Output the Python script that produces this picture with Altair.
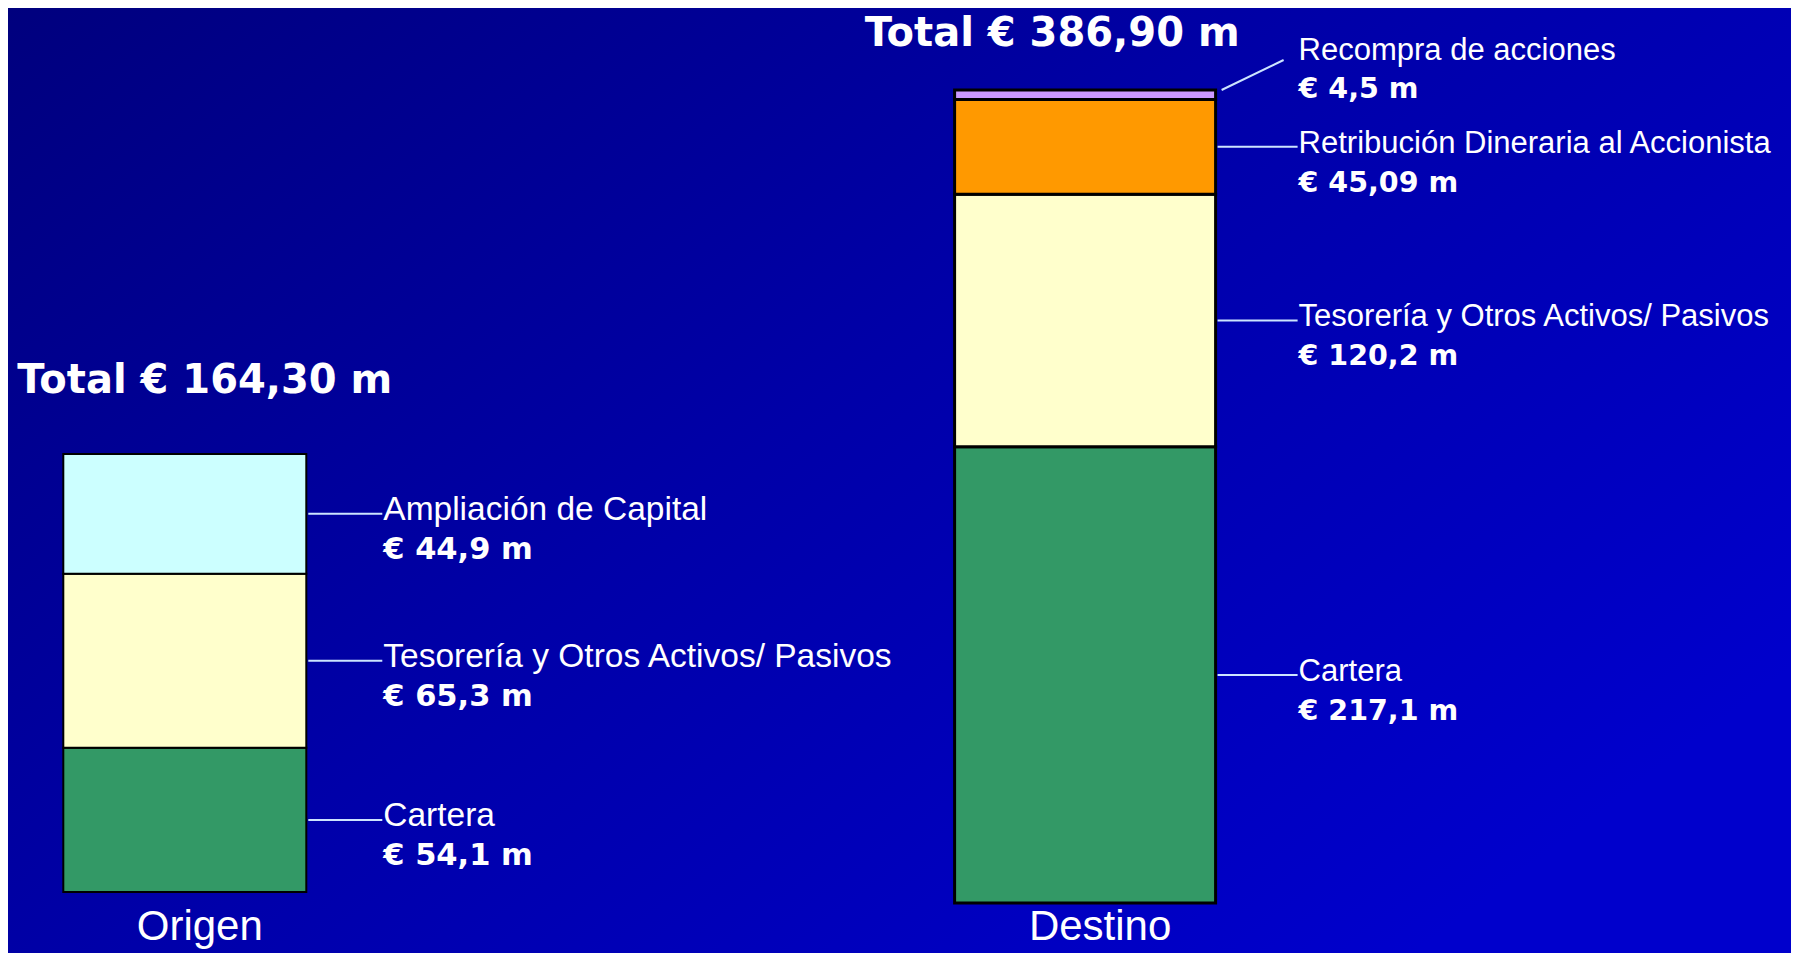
import altair as alt
import pandas as pd

# ---------------- data ----------------
bars = ["Origen", "Destino"]

origen_names = ["Cartera", "Tesorería y Otros Activos/ Pasivos", "Ampliación de Capital"]
origen_values = [54.1, 65.3, 44.9]
origen_labels = ["€ 54,1 m", "€ 65,3 m", "€ 44,9 m"]

destino_names = ["Cartera", "Tesorería y Otros Activos/ Pasivos",
                 "Retribución Dineraria al Accionista", "Recompra de acciones"]
destino_values = [217.1, 120.2, 45.09, 4.5]
destino_labels = ["€ 217,1 m", " € 120,2 m", "€ 45,09 m", "€ 4,5 m"]

# ---------------- style ----------------
segment_domain = ["Cartera", "Tesorería y Otros Activos/ Pasivos", "Ampliación de Capital",
                  "Retribución Dineraria al Accionista", "Recompra de acciones"]
segment_colors = ["#339966", "#FFFFCC", "#CCFFFF", "#FF9900", "#CC99FF"]

W, H = 1783, 945
LEAD = "#CCE4FF"
REG = "Liberation Sans"
BOLD = "DejaVu Sans"

cscale = alt.Scale(domain=segment_domain, range=segment_colors)

# band scale placing the two columns
c0, c1 = 176.8, 1077.1
step = c1 - c0
xscale = alt.Scale(domain=bars, range=[c0 - step / 2, c1 + step / 2],
                   paddingInner=0, paddingOuter=0)
X = alt.X("bar:N", scale=xscale, axis=None)


def frame(bar, names, values, labels):
    df = pd.DataFrame({"bar": bar, "name": names, "value": values, "label": labels})
    df["y1"] = df["value"].cumsum()
    df["y0"] = df["y1"] - df["value"]
    df["mid"] = (df["y0"] + df["y1"]) / 2
    total = float(df["value"].sum())
    df["small"] = df["value"] < 0.03 * total
    return df, total


def column(df, total, bar_w, stroke_w, bottom_px, top_px, lead, title_dx, title_dy,
           name_size, value_size):
    k = (bottom_px - top_px) / total
    d0 = -(H - bottom_px) / k
    d1 = d0 + H / k
    ys = alt.Scale(domain=[d0, d1], nice=False, zero=False)
    half = bar_w / 2
    flat = df[~df["small"]]
    diag = df[df["small"]]

    rects = alt.Chart(df).mark_bar(width=bar_w, stroke="black", strokeWidth=stroke_w).encode(
        x=X,
        y=alt.Y("y0:Q", scale=ys, axis=None),
        y2="y1:Q",
        color=alt.Color("name:N", scale=cscale, legend=None),
    )
    layers = [rects]

    if len(flat):
        layers.append(alt.Chart(flat).mark_rule(
            color=LEAD, strokeWidth=2, xOffset=half + 2, x2Offset=half + lead).encode(
            x=X, x2="bar:N", y=alt.Y("mid:Q", scale=ys, axis=None)))
        layers.append(alt.Chart(flat).mark_text(
            align="left", baseline="alphabetic", dx=half + lead + 1, dy=6,
            font=REG, fontSize=name_size, color="white").encode(
            x=X, y=alt.Y("mid:Q", scale=ys, axis=None), text="name:N"))
        layers.append(alt.Chart(flat).mark_text(
            align="left", baseline="alphabetic", dx=half + lead + 1, dy=45,
            font=BOLD, fontWeight="bold", fontSize=value_size, color="white").encode(
            x=X, y=alt.Y("mid:Q", scale=ys, axis=None), text="label:N"))
    if len(diag):
        layers.append(alt.Chart(diag).mark_rule(
            color=LEAD, strokeWidth=2, xOffset=half + 6, x2Offset=half + lead - 14,
            y2Offset=-30).encode(
            x=X, x2="bar:N", y=alt.Y("y1:Q", scale=ys, axis=None), y2="y1:Q"))
        layers.append(alt.Chart(diag).mark_text(
            align="left", baseline="alphabetic", dx=half + lead + 1, dy=-30,
            font=REG, fontSize=name_size, color="white").encode(
            x=X, y=alt.Y("y1:Q", scale=ys, axis=None), text="name:N"))
        layers.append(alt.Chart(diag).mark_text(
            align="left", baseline="alphabetic", dx=half + lead + 1, dy=8,
            font=BOLD, fontWeight="bold", fontSize=value_size, color="white").encode(
            x=X, y=alt.Y("y1:Q", scale=ys, axis=None), text="label:N"))

    bar = df["bar"].iloc[0]
    tdf = pd.DataFrame({"bar": [bar], "total": [total],
                        "text": ["Total € " + f"{round(total, 1):.2f}".replace(".", ",") + " m"]})
    layers.append(alt.Chart(tdf).mark_text(
        align="center", baseline="alphabetic", dx=title_dx, dy=title_dy,
        font=BOLD, fontWeight="bold", fontSize=40, color="white").encode(
        x=X, y=alt.Y("total:Q", scale=ys, axis=None), text="text:N"))
    layers.append(alt.Chart(tdf).mark_text(
        align="center", baseline="alphabetic", dx=15,
        font=REG, fontSize=42, color="white").encode(
        x=X, y=alt.value(932), text="bar:N"))
    return alt.layer(*layers)


odf, ototal = frame("Origen", origen_names, origen_values, origen_labels)
ddf, dtotal = frame("Destino", destino_names, destino_values, destino_labels)

left = column(odf, ototal, 243, 2, 884, 446, 76, 20, -61, 33.5, 30.5)
right = column(ddf, dtotal, 261, 3, 895, 82, 82, -33, -44, 31, 28.5)

grad = alt.Gradient(
    gradient="linear",
    stops=[alt.GradientStop(color="#00007E", offset=0),
           alt.GradientStop(color="#0000A8", offset=0.5),
           alt.GradientStop(color="#0000CC", offset=1)],
    x1=0, y1=0, x2=1, y2=0.7,
)
bg = alt.Chart(pd.DataFrame({"k": [0]})).mark_rect(fill=grad).encode(
    x=alt.value(0), x2=alt.value(W), y=alt.value(0), y2=alt.value(H))

chart = alt.layer(bg, left, right).resolve_scale(y="independent").properties(
    width=W, height=H, padding=0, background="#0000A8",
    autosize=alt.AutoSizeParams(type="none"),
).configure_view(stroke=None)

chart.save("out.html", embed_options={"renderer": "svg", "actions": False})
